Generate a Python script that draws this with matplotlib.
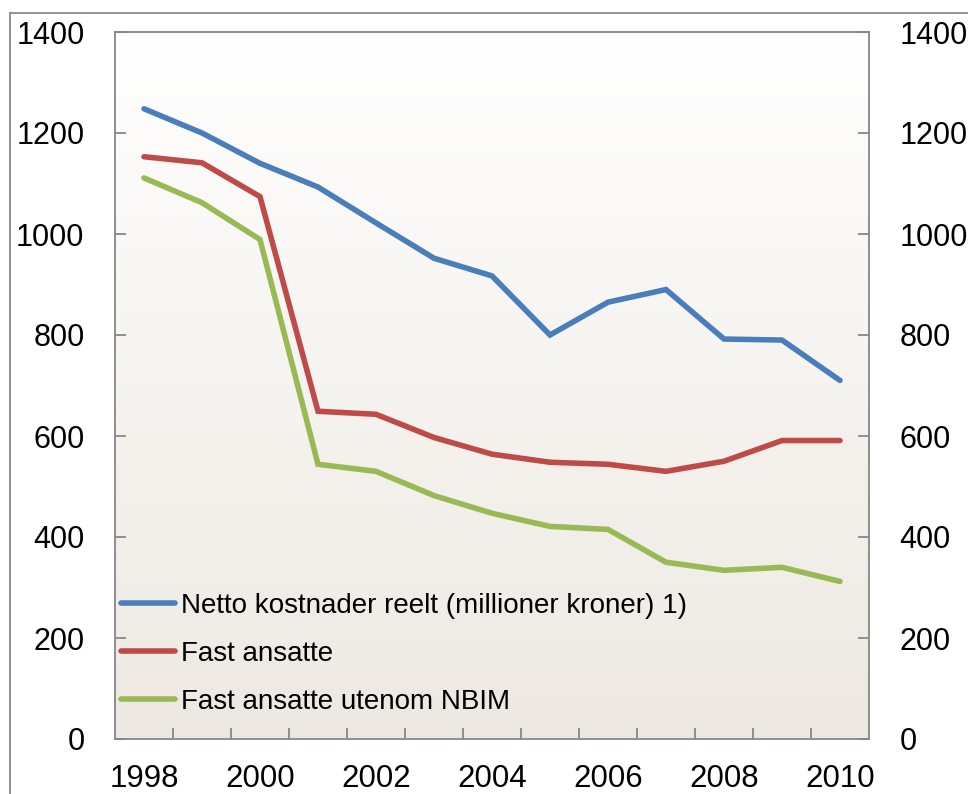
import numpy as np
import matplotlib
matplotlib.use("Agg")
import matplotlib.pyplot as plt
from matplotlib.lines import Line2D

years = [1998, 1999, 2000, 2001, 2002, 2003, 2004, 2005, 2006, 2007, 2008, 2009, 2010]
netto = [1248, 1200, 1140, 1093, 1022, 952, 917, 800, 865, 890, 792, 790, 710]
fast = [1153, 1141, 1074, 649, 643, 597, 564, 548, 544, 530, 550, 591, 591]
fast_utenom = [1111, 1062, 989, 544, 530, 482, 447, 421, 415, 350, 334, 340, 312]
labels = ["Netto kostnader reelt (millioner kroner) 1)", "Fast ansatte", "Fast ansatte utenom NBIM"]
colors = ["#4A7EBB", "#BE4B48", "#98B954"]
yticks = [0, 200, 400, 600, 800, 1000, 1200, 1400]

plt.rcParams['font.family'] = ['Liberation Sans', 'DejaVu Sans']

W, H = 968, 794
fig = plt.figure(figsize=(W / 100, H / 100), dpi=100)
ax = fig.add_axes([115 / W, (H - 739) / H, (869 - 115) / W, (739 - 32) / H])

x = np.arange(len(years))

# gradient background: white at top, beige at bottom
grad = np.linspace(0, 1, 256).reshape(-1, 1)
top = np.array([1.0, 1.0, 1.0])
bot = np.array([237, 232, 225]) / 255.0
img = top[None, None, :] * (1 - grad[:, :, None]) + bot[None, None, :] * grad[:, :, None]
ax.imshow(img, extent=[-0.5, len(years) - 0.5, 0, 1400], origin='upper', aspect='auto', zorder=0)
ax.set_xlim(-0.5, len(years) - 0.5)
ax.set_ylim(0, 1400)

for series, c, lab in zip([netto, fast, fast_utenom], colors, labels):
    ax.plot(x, series, color=c, lw=4.0, label=lab, solid_capstyle='round',
            solid_joinstyle='miter', zorder=3)

spine_c = "#878787"
for s in ax.spines.values():
    s.set_color(spine_c)
    s.set_linewidth(1.3)

# x axis: boundaries ticks, labels every other year
ax.set_xticks(np.arange(0.5, len(years) - 1, 1.0))
ax.set_xticklabels([])
ax.tick_params(axis='x', which='major', direction='in', length=8, width=1.3, color=spine_c)
ax.set_xticks(x[::2], minor=True)
ax.set_xticklabels([str(y) for y in years[::2]], minor=True)
ax.tick_params(axis='x', which='minor', length=0, pad=18, labelsize=22.5)

ax.set_yticks(yticks)
ax.set_yticklabels([str(v) for v in yticks])
ax.tick_params(axis='y', direction='in', length=8, width=1.3, color=spine_c,
               labelsize=22, pad=22, left=True, right=True, labelleft=True, labelright=True)

leg = ax.legend(loc='lower left', bbox_to_anchor=(0.0, 0.026), frameon=False, fontsize=20,
                handlelength=1.95, handletextpad=0.22, labelspacing=0.8, borderaxespad=0.2,
                borderpad=0.0)

# outer frame (partially visible)
fig.add_artist(Line2D([10 / W, 10 / W], [0, (H - 13) / H], color="#8a8a8a", lw=1.3,
                      transform=fig.transFigure))
fig.add_artist(Line2D([10 / W, 1.0], [(H - 13) / H, (H - 13) / H], color="#8a8a8a", lw=1.3,
                      transform=fig.transFigure))

fig.savefig("out.png", dpi=100)
